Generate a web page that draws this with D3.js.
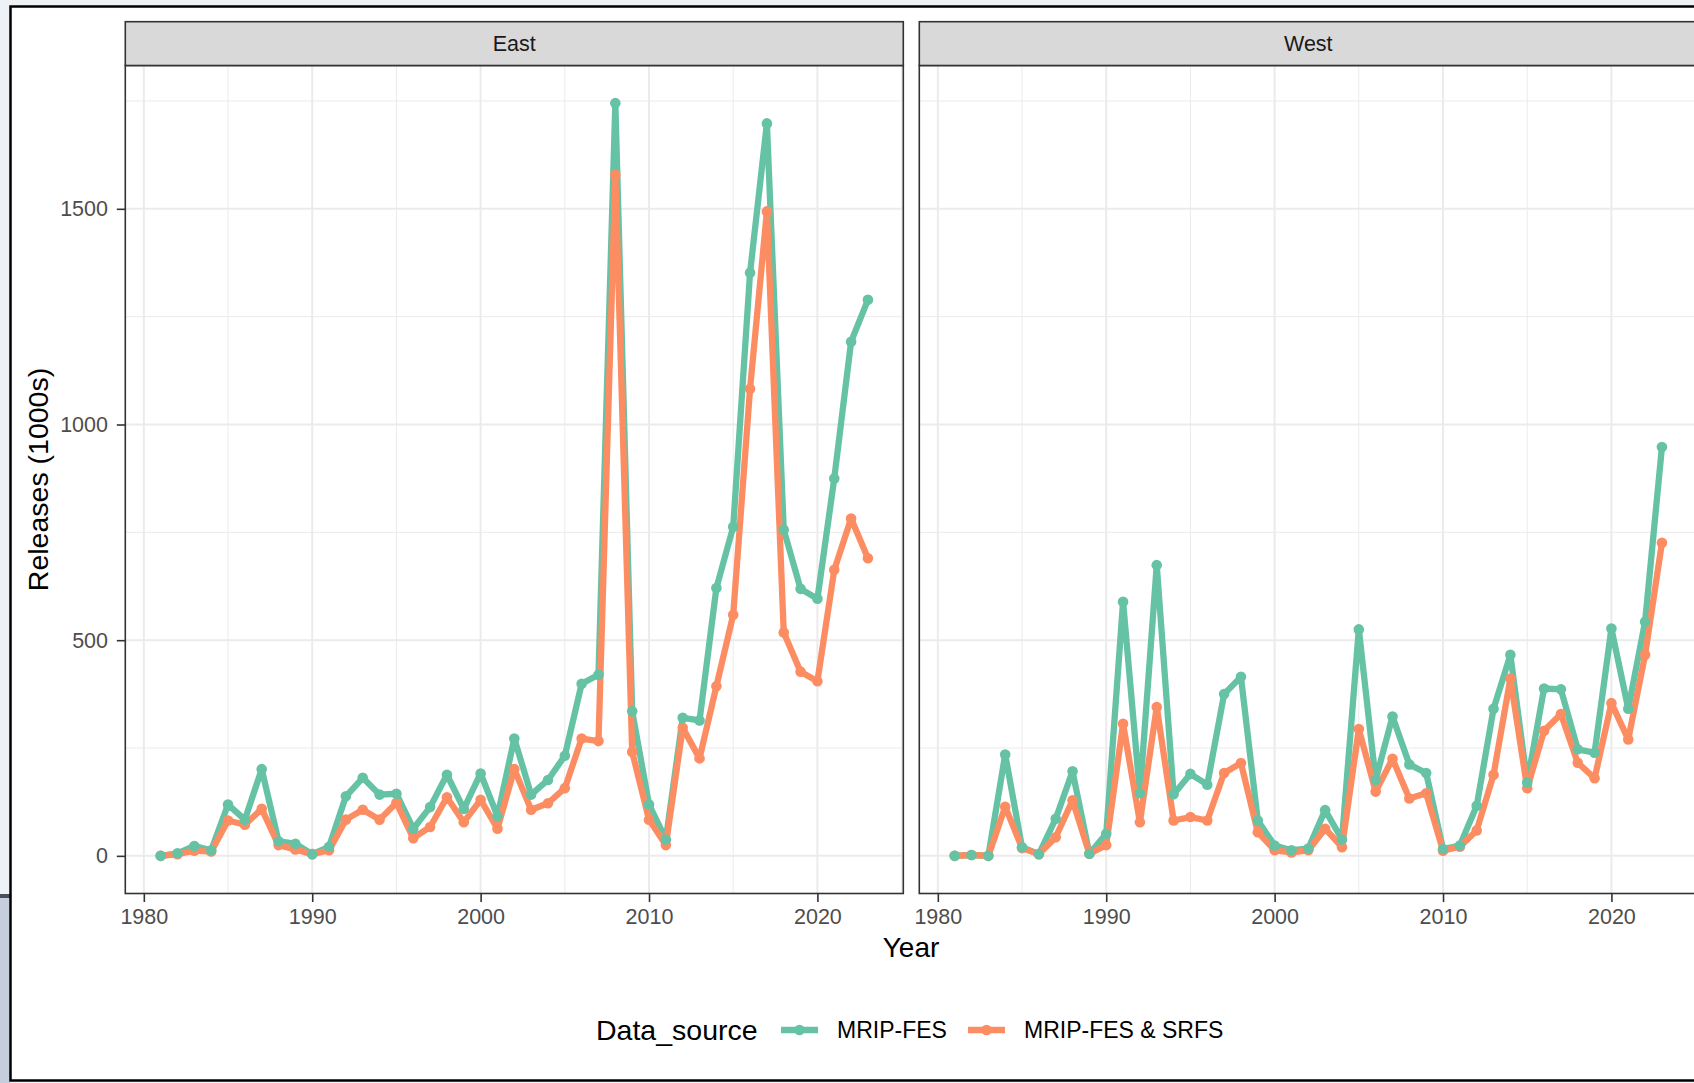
<!DOCTYPE html>
<html>
<head>
<meta charset="utf-8">
<script src="https://cdn.jsdelivr.net/npm/d3@7"></script>
<style>
  body { margin: 0; background: #eef1f6; overflow: hidden; }
  text { font-family: "Liberation Sans", Arial, sans-serif; }
</style>
</head>
<body>
<div id="chart"></div>
<script>
// Years 1981-2023, releases in thousands
const years = d3.range(1981, 2024);

const eastMripFes = [0, 6, 23, 13, 119, 84, 201, 34, 28, 4,
  21, 138, 181, 142, 144, 63, 113, 188, 109, 191,
  92, 272, 142, 176, 232, 399, 420, 1745, 335, 119,
  38, 320, 314, 621, 763, 1352, 1698, 756, 619, 596,
  875, 1192, 1289];
const eastMripSrfs = [0, 4, 12, 10, 82, 72, 109, 25, 15, 4,
  13, 84, 107, 84, 123, 41, 67, 136, 78, 130,
  63, 201, 107, 122, 157, 272, 266, 1579, 241, 84,
  25, 297, 226, 393, 559, 1083, 1494, 518, 427, 405,
  663, 782, 690];
const westMripFes = [0, 2, 0, 235, 20, 4, 86, 196, 5, 51,
  589, 145, 674, 143, 190, 165, 375, 415, 82, 24,
  13, 17, 106, 38, 525, 176, 323, 212, 192, 16,
  24, 116, 341, 466, 170, 388, 386, 247, 239, 527,
  341, 543, 948];
const westMripSrfs = [0, 2, 0, 114, 18, 4, 43, 129, 5, 25,
  306, 78, 345, 82, 90, 82, 192, 215, 55, 13,
  8, 13, 63, 20, 294, 149, 225, 133, 145, 12,
  21, 59, 188, 411, 157, 290, 329, 216, 180, 354,
  270, 466, 726];

const sources = ["MRIP-FES", "MRIP-FES & SRFS"];
const regions = ["East", "West"];
const xTicks = [1980, 1990, 2000, 2010, 2020];
const xMinor = [1985, 1995, 2005, 2015, 2025];
const yTicks = [0, 500, 1000, 1500];
const yMinor = [250, 750, 1250, 1750];

const colors = { "MRIP-FES": "#66c2a5", "MRIP-FES & SRFS": "#fc8d62" };
const seriesByRegion = {
  East: { "MRIP-FES": eastMripFes, "MRIP-FES & SRFS": eastMripSrfs },
  West: { "MRIP-FES": westMripFes, "MRIP-FES & SRFS": westMripSrfs }
};

const W = 1694, H = 1083;
const lineW = 6.3, dotR = 5.3;
const svg = d3.select("#chart").append("svg")
  .attr("width", W).attr("height", H);

// screenshot frame around the plot
svg.append("rect").attr("width", W).attr("height", H).attr("fill", "#eef1f6");
svg.append("rect").attr("x", 0).attr("y", 896).attr("width", 10).attr("height", H - 896)
  .attr("fill", "#c6cddd");
svg.append("rect").attr("x", 0).attr("y", 894).attr("width", 10).attr("height", 4)
  .attr("fill", "#4a4f5c");
svg.append("rect").attr("x", 10.5).attr("y", 6.5).attr("width", 1720).attr("height", 1074)
  .attr("fill", "#fff").attr("stroke", "#000").attr("stroke-width", 2.5);

// panel geometry
const panelW = 778, panelTop = 65.5, panelBottom = 893.5, stripTop = 21.7;
const panelX = { East: 125.3, West: 919.3 };

const yrExt = d3.extent(years);
const xPad = (yrExt[1] - yrExt[0]) * 0.05;
const x = d3.scaleLinear().domain([yrExt[0] - xPad, yrExt[1] + xPad]).range([0, panelW]);

const allVals = [eastMripFes, eastMripSrfs, westMripFes, westMripSrfs].flat();
const yMax = d3.max(allVals);
const yPad = yMax * 0.05;
const y = d3.scaleLinear().domain([-yPad, yMax + yPad]).range([panelBottom, panelTop]);

const line = d3.line().x((d, i) => x(years[i])).y(d => y(d));

regions.forEach(function(region) {
  const g = svg.append("g").attr("transform", "translate(" + panelX[region] + ",0)");

  g.append("rect").attr("y", panelTop).attr("width", panelW).attr("height", panelBottom - panelTop)
    .attr("fill", "#fff");

  // gridlines
  g.selectAll(".vminor").data(xMinor).enter().append("line")
    .attr("x1", d => x(d)).attr("x2", d => x(d)).attr("y1", panelTop).attr("y2", panelBottom)
    .attr("stroke", "#ebebeb").attr("stroke-width", 1);
  g.selectAll(".hminor").data(yMinor).enter().append("line")
    .attr("x1", 0).attr("x2", panelW).attr("y1", d => y(d)).attr("y2", d => y(d))
    .attr("stroke", "#ebebeb").attr("stroke-width", 1);
  g.selectAll(".vmajor").data(xTicks).enter().append("line")
    .attr("x1", d => x(d)).attr("x2", d => x(d)).attr("y1", panelTop).attr("y2", panelBottom)
    .attr("stroke", "#ebebeb").attr("stroke-width", 2);
  g.selectAll(".hmajor").data(yTicks).enter().append("line")
    .attr("x1", 0).attr("x2", panelW).attr("y1", d => y(d)).attr("y2", d => y(d))
    .attr("stroke", "#ebebeb").attr("stroke-width", 2);

  // lines: green first, orange on top
  sources.forEach(function(s) {
    g.append("path").datum(seriesByRegion[region][s])
      .attr("fill", "none").attr("stroke", colors[s])
      .attr("stroke-width", lineW).attr("stroke-linejoin", "round")
      .attr("d", line);
  });
  // points: orange first, green on top
  sources.slice().reverse().forEach(function(s) {
    g.selectAll(null).data(seriesByRegion[region][s]).enter().append("circle")
      .attr("cx", (d, i) => x(years[i])).attr("cy", d => y(d))
      .attr("r", dotR).attr("fill", colors[s]);
  });

  // border
  g.append("rect").attr("y", panelTop).attr("width", panelW).attr("height", panelBottom - panelTop)
    .attr("fill", "none").attr("stroke", "#333").attr("stroke-width", 1.6);

  // strip
  g.append("rect").attr("y", stripTop).attr("width", panelW).attr("height", panelTop - stripTop)
    .attr("fill", "#d9d9d9").attr("stroke", "#333").attr("stroke-width", 1.6);
  g.append("text").attr("x", panelW / 2).attr("y", (stripTop + panelTop) / 2)
    .attr("dy", "0.35em").attr("text-anchor", "middle")
    .style("font-size", "21.5px").attr("fill", "#1a1a1a").text(region);

  // x axis
  const xa = g.append("g").attr("transform", "translate(0," + panelBottom + ")")
    .call(d3.axisBottom(x).tickValues(xTicks).tickFormat(d3.format("d"))
      .tickSize(8.5).tickPadding(6.7));
  xa.select(".domain").remove();
  xa.selectAll("line").attr("stroke", "#333").attr("stroke-width", 1.6);
  xa.selectAll("text").style("font-size", "21.5px").attr("fill", "#4d4d4d")
    .style("font-family", "'Liberation Sans', Arial, sans-serif");

  if (region === "East") {
    const ya = g.append("g")
      .call(d3.axisLeft(y).tickValues(yTicks).tickFormat(d3.format("d"))
        .tickSize(8.5).tickPadding(8.8));
    ya.select(".domain").remove();
    ya.selectAll("line").attr("stroke", "#333").attr("stroke-width", 1.6);
    ya.selectAll("text").style("font-size", "21.5px").attr("fill", "#4d4d4d")
      .style("font-family", "'Liberation Sans', Arial, sans-serif");
  }
});

// axis titles
svg.append("text").attr("x", 911).attr("y", 957).attr("text-anchor", "middle")
  .style("font-size", "28px").attr("fill", "#000").text("Year");
svg.append("text").attr("transform", "translate(48," + (panelTop + panelBottom) / 2 + ") rotate(-90)")
  .attr("text-anchor", "middle").style("font-size", "28.5px").attr("fill", "#000")
  .text("Releases (1000s)");

// legend
const legY = 1030;
svg.append("text").attr("x", 596).attr("y", legY).attr("dy", "0.35em")
  .style("font-size", "28.5px").attr("fill", "#000").text("Data_source");
const keyX = [781, 968];
const labelX = [837, 1024];
sources.forEach(function(s, i) {
  svg.append("line").attr("x1", keyX[i]).attr("x2", keyX[i] + 37)
    .attr("y1", legY).attr("y2", legY)
    .attr("stroke", colors[s]).attr("stroke-width", lineW);
  svg.append("circle").attr("cx", keyX[i] + 18.5).attr("cy", legY).attr("r", dotR)
    .attr("fill", colors[s]);
  svg.append("text").attr("x", labelX[i]).attr("y", legY).attr("dy", "0.35em")
    .style("font-size", "23px").attr("fill", "#000").text(s);
});
</script>
</body>
</html>
